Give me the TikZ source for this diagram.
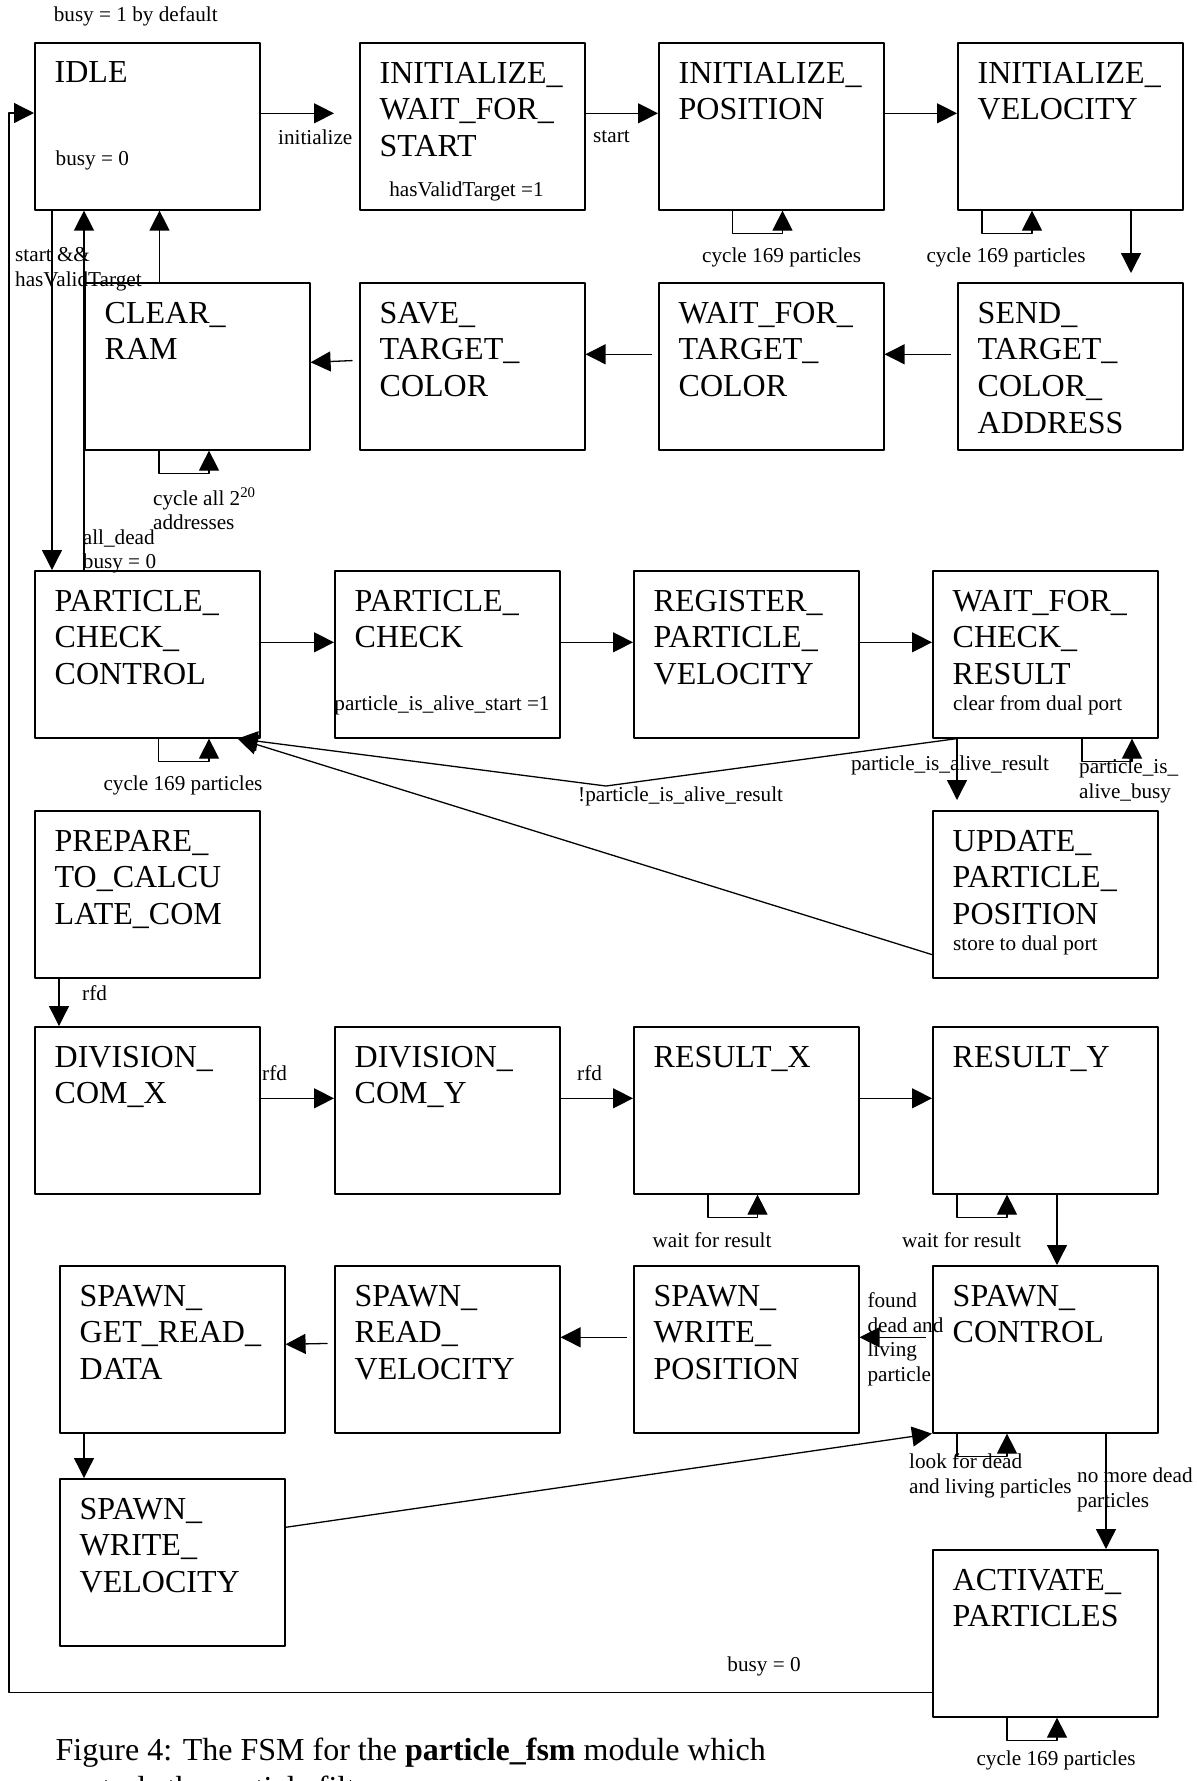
\documentclass[tikz,border=0pt]{standalone}
\usepackage{fontspec}
\setmainfont{Liberation Serif}
\usetikzlibrary{arrows.meta}

\newcommand{\statefont}{\fontsize{32}{36.7}\selectfont}
\newcommand{\notefont}{\fontsize{21.2}{24.7}\selectfont}
\newcommand{\capfont}{\fontsize{32}{37}\selectfont}

% a state: name, left, top, text
\newcommand{\fsmstate}[4]{%
  \node[state] (#1) at (#2,#3) {};
  \node[statetxt] (#1t) at (#1.north west) {#4};}
% a self loop under a state: name, start and end offset from its left side
\newcommand{\selfloop}[3]{%
  \draw[loopline] ([xshift=#2pt]#1.south west) -- ++(0,23) -| ([xshift=#3pt]#1.south west);}

\begin{document}
\begin{tikzpicture}[x=1pt, y=-1pt, line join=round, >={Triangle[length=20pt,width=20pt]},
	state/.style={draw, line width=1.6pt, anchor=north west, minimum width=225pt, minimum height=167pt, inner sep=0pt},
	statetxt/.style={anchor=north west, align=left, font=\statefont, inner xsep=20.5pt, inner ysep=19.7pt},
	note/.style={font=\notefont, inner sep=0pt},
	trans/.style={->, line width=1.3pt},
	transback/.style={trans, shorten <=6.5pt},
	loopline/.style={->, line width=1.1pt}]
	\useasboundingbox (0,0) rectangle (1197,1781);
	\clip (0,0) rectangle (1197,1781);

	\fsmstate{idle}{34}{42}{IDLE}
	\fsmstate{initwait}{359}{42}{INITIALIZE\_\\WAIT\_FOR\_\\START}
	\fsmstate{initpos}{658}{42}{INITIALIZE\_\\POSITION}
	\fsmstate{initvel}{957}{42}{INITIALIZE\_\\VELOCITY}
	\fsmstate{clearram}{84}{282}{CLEAR\_\\RAM}
	\fsmstate{savetc}{359}{282}{SAVE\_\\TARGET\_\\COLOR}
	\fsmstate{waittc}{658}{282}{WAIT\_FOR\_\\TARGET\_\\COLOR}
	\fsmstate{sendtc}{957}{282}{SEND\_\\TARGET\_\\COLOR\_\\ADDRESS}
	\fsmstate{pcc}{34}{570}{PARTICLE\_\\CHECK\_\\CONTROL}
	\fsmstate{pcheck}{334}{570}{PARTICLE\_\\CHECK}
	\fsmstate{regpv}{633}{570}{REGISTER\_\\PARTICLE\_\\VELOCITY}
	\fsmstate{waitcr}{932}{570}{WAIT\_FOR\_\\CHECK\_\\RESULT}
	\fsmstate{prepare}{34}{810}{PREPARE\_\\TO\_CALCU\\LATE\_COM}
	\fsmstate{updpp}{932}{810}{UPDATE\_\\PARTICLE\_\\POSITION}
	\fsmstate{divx}{34}{1026}{DIVISION\_\\COM\_X}
	\fsmstate{divy}{334}{1026}{DIVISION\_\\COM\_Y}
	\fsmstate{resx}{633}{1026}{RESULT\_X}
	\fsmstate{resy}{932}{1026}{RESULT\_Y}
	\fsmstate{spgrd}{59}{1265}{SPAWN\_\\GET\_READ\_\\DATA}
	\fsmstate{sprv}{334}{1265}{SPAWN\_\\READ\_\\VELOCITY}
	\fsmstate{spwp}{633}{1265}{SPAWN\_\\WRITE\_\\POSITION}
	\fsmstate{spctrl}{932}{1265}{SPAWN\_\\CONTROL}
	\fsmstate{spwv}{59}{1478}{SPAWN\_\\WRITE\_\\VELOCITY}
	\fsmstate{activate}{932}{1549}{ACTIVATE\_\\PARTICLES}

	% start up
	\draw[trans, shorten >=25pt] ([yshift=13pt]idle.east) -- ([yshift=13pt]initwait.west);
	\draw[trans] ([yshift=13pt]initwait.east) -- ([yshift=13pt]initpos.west);
	\draw[trans] ([yshift=13pt]initpos.east) -- ([yshift=13pt]initvel.west);
	\draw[trans, shorten >=9pt] ([xshift=174pt]initvel.south west) -- ([xshift=174pt]sendtc.north west);
	\draw[transback] ([yshift=12pt]sendtc.west) -- ([yshift=12pt]waittc.east);
	\draw[transback] ([yshift=12pt]waittc.west) -- ([yshift=12pt]savetc.east);
	\draw[transback] ([yshift=6pt]savetc.west) -- ([yshift=4pt]clearram.east);
	\draw[trans] ([xshift=75.5pt]clearram.north west) -- ([xshift=125.5pt]idle.south west);
	\draw[trans] ([xshift=50pt]pcc.north west) -- ([xshift=50pt]idle.south west);
	\draw[trans] ([xshift=18pt]idle.south west) -- ([xshift=18pt]pcc.north west);

	% particle check
	\draw[trans] ([yshift=12pt]pcc.east) -- ([yshift=12pt]pcheck.west);
	\draw[trans] ([yshift=12pt]pcheck.east) -- ([yshift=12pt]regpv.west);
	\draw[trans] ([yshift=12pt]regpv.east) -- ([yshift=12pt]waitcr.west);
	\coordinate (kink) at (606,786);
	\draw[trans] ([xshift=25pt]waitcr.south west) -- (kink) -- ([xshift=-23pt]pcc.south east);
	\draw[trans] ([yshift=24pt]updpp.south west) -- ([xshift=-23pt]pcc.south east);
	\draw[trans, shorten >=10pt] ([xshift=25pt]waitcr.south west) -- ([xshift=25pt]updpp.north west);

	% centre of mass
	\draw[trans] ([xshift=25pt]prepare.south west) -- ([xshift=25pt]divx.north west);
	\draw[trans] ([yshift=12pt]divx.east) -- ([yshift=12pt]divy.west);
	\draw[trans] ([yshift=12pt]divy.east) -- ([yshift=12pt]resx.west);
	\draw[trans] ([yshift=12pt]resx.east) -- ([yshift=12pt]resy.west);
	\draw[trans] ([xshift=125pt]resy.south west) -- ([xshift=125pt]spctrl.north west);

	% spawn
	\draw[transback] ([yshift=12pt]spctrl.west) -- ([yshift=12pt]spwp.east);
	\draw[transback] ([yshift=12pt]spwp.west) -- ([yshift=12pt]sprv.east);
	\draw[transback] ([yshift=6pt]sprv.west) -- ([yshift=5pt]spgrd.east);
	\draw[trans] ([xshift=25pt]spgrd.south west) -- ([xshift=25pt]spwv.north west);
	\draw[trans] ([yshift=35pt]spwv.east) -- (spctrl.south west);
	\draw[trans] ([xshift=174pt]spctrl.south west) -- ([xshift=174pt]activate.north west);
	\draw[trans] ([yshift=25pt]activate.south west) -| ([xshift=-25pt,yshift=-71pt]idle.north west) -- ([yshift=-71pt]idle.north west);

	\selfloop{initpos}{74.5}{124.5}
	\selfloop{initvel}{25}{75}
	\selfloop{clearram}{75}{125}
	\selfloop{pcc}{124.5}{175}
	\selfloop{waitcr}{150}{200}
	\selfloop{resx}{75}{124.5}
	\selfloop{resy}{25}{75}
	\selfloop{spctrl}{25}{75}
	\selfloop{activate}{75}{125}

	\node[note, anchor=west] (defbusy) at (53.6,16.7) {busy = 1 by default};
	\node[note, anchor=west] (idlebusy) at (55.5,160.7) {busy = 0};
	\node[note, anchor=west] (linit) at (278,137) {initialize};
	\node[note, anchor=west] (lstart) at (593,137) {start};
	\node[note] (hvt) at (466.5,191.7) {hasValidTarget =1};
	\node[note] (lcyc1) at (781.6,257) {cycle 169 particles};
	\node[note] (lcyc2) at (1006,257) {cycle 169 particles};
	\node[note, anchor=west, align=left] (lstartvalid) at (15,269) {start \&\&\\hasValidTarget};
	\node[note, anchor=west, align=left] (lclr) at (153,509) {cycle all 2\textsuperscript{20}\\addresses};
	\node[note, anchor=west, align=left] (lalldead) at (82.7,551.5) {all\_dead\\busy = 0};
	\node[note] (lcyc3) at (183,785) {cycle 169 particles};
	\node[note] (pstart) at (442,705) {particle\_is\_alive\_start =1};
	\node[note, anchor=west] (lnotalive) at (578,796.7) {!particle\_is\_alive\_result};
	\node[note] (lalive) at (950,765) {particle\_is\_alive\_result};
	\node[note, anchor=west, align=left] (lbusy) at (1079,781) {particle\_is\_\\alive\_busy};
	\node[note, anchor=west] (clrdp) at (953,705) {clear from dual port};
	\node[note, anchor=west] (stdp) at (953,945) {store to dual port};
	\node[note, anchor=west] (lrfd1) at (82,993) {rfd};
	\node[note, anchor=west] (lrfd2) at (262,1072.7) {rfd};
	\node[note, anchor=west] (lrfd3) at (577,1072.7) {rfd};
	\node[note] (lwait1) at (712,1240) {wait for result};
	\node[note] (lwait2) at (961.5,1240) {wait for result};
	\node[note, anchor=west, align=left] (lfound) at (867.3,1339.3) {found\\dead and\\living\\particle};
	\node[note, anchor=west, align=left] (llook) at (909,1475.5) {look for dead\\and living particles};
	\node[note, anchor=west, align=left] (lnomore) at (1077,1490) {no more dead\\particles};
	\node[note] (lcyc4) at (1056,1760) {cycle 169 particles};
	\node[note] (lbusyend) at (764,1666) {busy = 0};

	\node[anchor=base west, font=\capfont, inner sep=0pt] (cap1) at (55.5,1760) {Figure 4: The FSM for the \textbf{particle\_fsm} module which};
	\node[anchor=base west, font=\capfont, inner sep=0pt] (cap2) at (55.5,1798) {controls the particle filter};
\end{tikzpicture}
\end{document}
